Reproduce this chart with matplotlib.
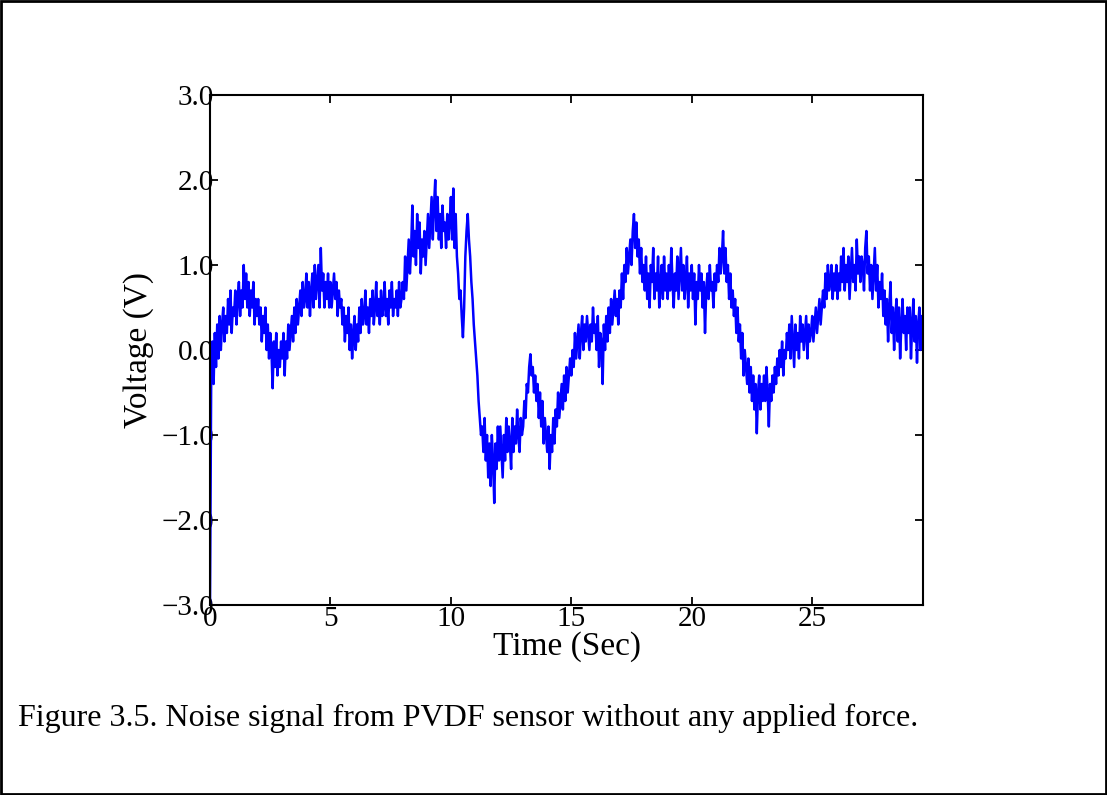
#!/usr/bin/env python3
"""
PVDF sensor noise plot (Figure 3.5).
Voltage read from the sensor with no force applied, sampled every 0.05 s.
"""

import numpy as np
import matplotlib
matplotlib.use("Agg")
import matplotlib.pyplot as plt
from matplotlib.patches import Rectangle

# Sample interval of the trace (s)
SAMPLE_DT = 0.05

# Voltage samples (V), one row per second
voltage = [
    -3.0, -0.3, 0.1, -0.4, 0.2, -0.2, 0.3, -0.1, 0.4, 0.0, 0.3, 0.5, 0.1, 0.4, 0.2, 0.6, 0.3, 0.7, 0.2, 0.5,
    0.4, 0.7, 0.3, 0.6, 0.8, 0.4, 0.7, 0.5, 1.0, 0.6, 0.9, 0.5, 0.8, 0.4, 0.7, 0.5, 0.8, 0.3, 0.6, 0.4,
    0.6, 0.3, 0.5, 0.1, 0.4, 0.2, 0.5, 0.0, 0.3, -0.1, 0.2, 0.0, -0.45, 0.1, -0.2, 0.2, -0.3, 0.0, -0.2, 0.1,
    -0.1, 0.2, -0.3, 0.1, -0.1, 0.3, 0.0, 0.2, 0.4, 0.1, 0.5, 0.2, 0.6, 0.3, 0.5, 0.7, 0.4, 0.8, 0.5, 0.6,
    0.9, 0.5, 0.8, 0.4, 0.7, 0.9, 0.5, 1.0, 0.6, 0.8, 1.0, 0.5, 1.2, 0.7, 0.9, 0.5, 0.8, 0.6, 0.9, 0.5,
    0.8, 0.5, 0.7, 0.9, 0.6, 0.8, 0.4, 0.7, 0.5, 0.6, 0.3, 0.5, 0.1, 0.4, 0.2, 0.5, 0.0, 0.3, -0.1, 0.2,
    0.4, 0.0, 0.3, 0.1, 0.5, 0.2, 0.6, 0.3, 0.4, 0.7, 0.3, 0.5, 0.2, 0.6, 0.4, 0.7, 0.3, 0.5, 0.8, 0.4,
    0.6, 0.3, 0.7, 0.4, 0.5, 0.8, 0.4, 0.6, 0.3, 0.7, 0.5, 0.8, 0.4, 0.6, 0.5, 0.7, 0.4, 0.8, 0.5, 0.6,
    0.8, 0.6, 1.1, 0.7, 1.0, 1.3, 0.9, 1.2, 1.7, 1.1, 1.4, 1.0, 1.6, 1.2, 1.5, 0.9, 1.3, 1.1, 1.4, 1.0,
    1.3, 1.6, 1.2, 1.5, 1.8, 1.3, 1.7, 2.0, 1.4, 1.8, 1.3, 1.6, 1.2, 1.7, 1.4, 1.5, 1.2, 1.6, 1.3, 1.5,
    1.8, 1.3, 1.9, 1.2, 1.6, 1.1, 0.9, 0.6, 0.7, 0.4, 0.15, 0.5, 1.1, 1.4, 1.6, 1.3, 1.1, 0.8, 0.6, 0.3,
    0.1, -0.1, -0.3, -0.6, -0.8, -1.0, -0.9, -1.2, -0.8, -1.3, -1.0, -1.5, -1.1, -1.6, -1.0, -1.3, -1.8, -1.1, -1.4, -0.9,
    -1.3, -0.9, -1.2, -1.5, -1.0, -1.3, -0.8, -1.2, -0.9, -1.1, -1.4, -0.8, -1.2, -0.9, -1.1, -0.7, -1.0, -1.2, -0.8, -1.0,
    -0.9, -0.6, -0.8, -0.4, -0.5, -0.2, -0.05, -0.3, -0.2, -0.5, -0.3, -0.6, -0.4, -0.8, -0.5, -0.9, -0.6, -1.1, -0.8, -1.0,
    -1.2, -0.9, -1.4, -1.0, -1.2, -0.8, -1.1, -0.7, -0.9, -0.5, -0.8, -0.6, -0.4, -0.7, -0.3, -0.6, -0.2, -0.5, -0.3, -0.1,
    -0.3, 0.0, -0.2, 0.2, -0.1, 0.1, 0.3, -0.1, 0.2, 0.4, 0.0, 0.3, 0.1, 0.4, 0.2, 0.0, 0.3, 0.1, 0.5, 0.2,
    0.3, 0.0, 0.4, -0.2, 0.2, 0.1, -0.4, 0.3, 0.0, 0.4, 0.1, 0.5, 0.2, 0.6, 0.3, 0.5, 0.7, 0.4, 0.6, 0.3,
    0.7, 0.5, 0.9, 0.6, 1.0, 0.8, 1.2, 0.9, 1.1, 1.3, 1.0, 1.4, 1.6, 1.2, 1.5, 1.1, 1.3, 0.9, 1.2, 0.8,
    1.0, 0.7, 1.1, 0.6, 0.9, 0.5, 1.0, 0.8, 1.2, 0.6, 0.9, 0.7, 1.1, 0.5, 0.8, 1.0, 0.6, 1.1, 0.7, 0.9,
    0.6, 1.0, 0.7, 1.2, 0.8, 0.5, 0.9, 0.7, 1.1, 0.6, 0.9, 1.2, 0.7, 1.0, 0.6, 0.8, 1.1, 0.5, 0.9, 0.7,
    1.0, 0.6, 0.9, 0.3, 0.8, 0.6, 1.0, 0.7, 0.9, 0.5, 0.8, 0.2, 0.7, 0.9, 0.6, 1.0, 0.7, 0.8, 0.5, 0.9,
    0.7, 1.0, 0.8, 1.2, 0.9, 1.1, 1.4, 0.9, 1.2, 0.8, 1.0, 0.6, 0.9, 0.5, 0.7, 0.4, 0.6, 0.2, 0.5, 0.1,
    0.3, -0.1, 0.2, -0.3, 0.0, -0.2, -0.4, -0.1, -0.5, -0.2, -0.6, -0.3, -0.7, -0.4, -0.98, -0.5, -0.3, -0.7, -0.4, -0.6,
    -0.3, -0.6, -0.2, -0.5, -0.9, -0.4, -0.6, -0.3, -0.5, -0.2, -0.4, -0.1, -0.3, 0.0, -0.2, 0.1, -0.3, 0.0, -0.1, 0.2,
    0.0, 0.3, -0.1, 0.4, 0.1, -0.2, 0.3, 0.0, 0.2, -0.1, 0.4, 0.1, 0.3, 0.0, 0.2, 0.4, -0.1, 0.3, 0.1, 0.2,
    0.4, 0.1, 0.3, 0.5, 0.2, 0.4, 0.6, 0.3, 0.5, 0.7, 0.5, 0.9, 0.6, 1.0, 0.7, 0.8, 1.0, 0.6, 0.9, 0.7,
    1.0, 0.6, 0.9, 0.7, 1.1, 0.8, 1.2, 0.7, 1.0, 0.8, 1.1, 0.6, 0.9, 1.2, 0.8, 1.0, 0.7, 1.3, 0.9, 1.1,
    0.8, 1.1, 1.0, 0.7, 1.2, 1.4, 0.9, 1.1, 0.7, 1.0, 0.6, 0.9, 1.2, 0.7, 1.0, 0.5, 0.8, 0.6, 0.9, 0.4,
    0.7, 0.3, 0.6, 0.1, 0.5, 0.8, 0.2, 0.5, 0.0, 0.4, 0.6, 0.1, 0.5, -0.1, 0.3, 0.6, 0.2, 0.4, 0.0, 0.5,
    0.2, 0.5, -0.1, 0.3, 0.6, 0.1, 0.4, -0.15, 0.3, 0.5, 0.0, 0.4, 0.1,
]

x_ticks = [0, 5, 10, 15, 20, 25]
y_ticks = [-3.0, -2.0, -1.0, 0.0, 1.0, 2.0, 3.0]
y_tick_labels = ["\u22123.0", "\u22122.0", "\u22121.0", "0.0", "1.0", "2.0", "3.0"]

CAPTION = "Figure 3.5. Noise signal from PVDF sensor without any applied force."

plt.rcParams['font.family'] = ['Liberation Serif', 'DejaVu Serif']


def plot_noise():
    """Draw the noise trace in MATLAB-ish style"""
    time = np.arange(len(voltage)) * SAMPLE_DT

    fig = plt.figure(figsize=(11.07, 7.95), dpi=100)
    ax = fig.add_axes([0.1897, 0.2390, 0.6441, 0.6415])

    ax.plot(time, voltage, color="#0000ff", linewidth=1.8)

    ax.set_xlim(0, time[-1])
    ax.set_ylim(-3.0, 3.0)
    ax.set_xticks(x_ticks)
    ax.set_yticks(y_ticks)
    ax.set_yticklabels(y_tick_labels)

    ax.tick_params(direction='in', length=6, width=1.3, top=True, right=True,
                   labelsize=21)
    ax.tick_params(axis='y', pad=-3)
    ax.tick_params(axis='x', pad=1)
    for sp in ax.spines.values():
        sp.set_linewidth(1.5)

    ax.set_xlabel('Time (Sec)', fontsize=24, labelpad=-1)
    ax.set_ylabel('Voltage (V)', fontsize=24, labelpad=5)

    fig.text(0.0163, 0.0868, CAPTION, fontsize=23, ha='left', va='baseline')

    # thin frame around the whole page
    fig.patches.append(Rectangle((0.001, 0.0015), 0.998, 0.997, transform=fig.transFigure,
                                 fill=False, edgecolor='black', linewidth=2))

    fig.savefig('out.png', dpi=100, facecolor='white')
    plt.close(fig)


if __name__ == "__main__":
    plot_noise()
    print("saved out.png")
